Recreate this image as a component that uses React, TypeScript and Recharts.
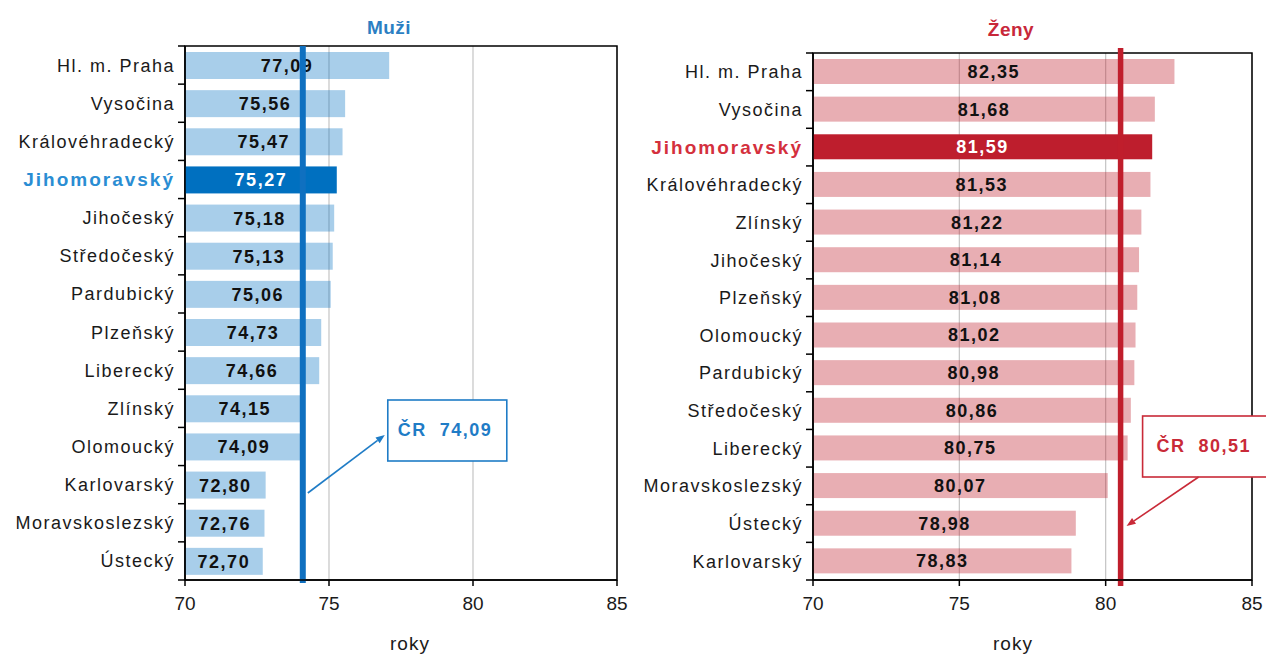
import React from 'react';
import { BarChart, Bar, XAxis, YAxis, CartesianGrid, ReferenceLine, ReferenceArea } from 'recharts';

const menCategories = ['Hl. m. Praha', 'Vysočina', 'Královéhradecký', 'Jihomoravský', 'Jihočeský', 'Středočeský', 'Pardubický', 'Plzeňský', 'Liberecký', 'Zlínský', 'Olomoucký', 'Karlovarský', 'Moravskoslezský', 'Ústecký'];
const menValues = [77.09, 75.56, 75.47, 75.27, 75.18, 75.13, 75.06, 74.73, 74.66, 74.15, 74.09, 72.8, 72.76, 72.7];
const womenCategories = ['Hl. m. Praha', 'Vysočina', 'Jihomoravský', 'Královéhradecký', 'Zlínský', 'Jihočeský', 'Plzeňský', 'Olomoucký', 'Pardubický', 'Středočeský', 'Liberecký', 'Moravskoslezský', 'Ústecký', 'Karlovarský'];
const womenValues = [82.35, 81.68, 81.59, 81.53, 81.22, 81.14, 81.08, 81.02, 80.98, 80.86, 80.75, 80.07, 78.98, 78.83];
const xTicks = [70, 75, 80, 85];
const xDomain = [70, 85];
const menAverage = 74.09;
const womenAverage = 80.51;
const highlightRegion = 'Jihomoravský';
const menTitle = 'Muži';
const womenTitle = 'Ženy';
const axisTitle = 'roky';
const avgPrefix = 'ČR';

const FONT = '"Liberation Sans", Arial, sans-serif';
const fmt = (v: number) => v.toFixed(2).replace('.', ',');

type Cfg = {
  left: number;
  width: number;
  height: number;
  top: number;
  right: number;
  yAxisWidth: number;
  xAxisHeight: number;
  barSize: number;
  dark: string;
  lightOpacity: number;
  hlLabel: string;
  lineColor: string;
  lineWidth: number;
  calloutColor: string;
  lineExtTop: number;
  lineExtBottom: number;
  callout: 'left' | 'right';
};

const menCfg: Cfg = {
  left: 0, width: 640, height: 655, top: 46, right: 23, yAxisWidth: 185, xAxisHeight: 75, barSize: 27,
  dark: '#0070c0', lightOpacity: 0.34, hlLabel: '#2a8dd3', lineColor: '#0f70c0', lineWidth: 6,
  calloutColor: '#1f7cc6', lineExtTop: 0, lineExtBottom: 3, callout: 'left',
};
const womenCfg: Cfg = {
  left: 642, width: 624, height: 655, top: 53, right: 14, yAxisWidth: 171, xAxisHeight: 75, barSize: 25,
  dark: '#be1e2d', lightOpacity: 0.36, hlLabel: '#d4303d', lineColor: '#c01e2c', lineWidth: 5.5,
  calloutColor: '#c92a38', lineExtTop: 5, lineExtBottom: 6, callout: 'right',
};

const Arrow = ({ x1, y1, x2, y2, color }: any) => {
  const ang = Math.atan2(y2 - y1, x2 - x1);
  const len = 9;
  const w = 3.5;
  const bx = x2 - len * Math.cos(ang);
  const by = y2 - len * Math.sin(ang);
  const px = -Math.sin(ang) * w;
  const py = Math.cos(ang) * w;
  return (
    <g>
      <line x1={x1} y1={y1} x2={bx} y2={by} stroke={color} strokeWidth={1.6} />
      <polygon points={`${x2},${y2} ${bx + px},${by + py} ${bx - px},${by - py}`} fill={color} />
    </g>
  );
};

function Panel({ cfg, categories, values, average }: { cfg: Cfg; categories: string[]; values: number[]; average: number }) {
  const data = categories.map((name, i) => ({ name, value: values[i] }));
  const n = data.length;
  const plotBottom = cfg.height - cfg.xAxisHeight;
  const band = (plotBottom - cfg.top) / n;

  const YTick = (props: any) => {
    const { x, y, payload, index } = props;
    const hl = payload.value === highlightRegion;
    return (
      <g>
        <text
          x={x}
          y={y}
          dy="0.36em"
          textAnchor="end"
          fontFamily={FONT}
          fontSize={hl ? 19 : 18}
          fontWeight={hl ? 'bold' : 'normal'}
          fill={hl ? cfg.hlLabel : '#1a1a1a'}
          style={{ letterSpacing: hl ? '2px' : '1.5px' }}
        >
          {payload.value}
        </text>
        <line x1={x + 3} x2={x + 10} y1={y - band / 2} y2={y - band / 2} stroke="#000" strokeWidth={1.5} />
        {index === n - 1 && (
          <line x1={x + 3} x2={x + 10} y1={y + band / 2} y2={y + band / 2} stroke="#000" strokeWidth={1.5} />
        )}
      </g>
    );
  };

  const BarShape = (props: any) => {
    const { x, y, width, height, payload } = props;
    const hl = payload.name === highlightRegion;
    return (
      <g>
        <rect x={x} y={y} width={width} height={height} fill={cfg.dark} fillOpacity={hl ? 1 : cfg.lightOpacity} />
        <text
          x={x + width / 2}
          y={y + height / 2}
          dy="0.36em"
          textAnchor="middle"
          fontFamily={FONT}
          fontSize={18}
          fontWeight="bold"
          fill={hl ? '#ffffff' : '#111111'}
          style={{ letterSpacing: '1.5px' }}
        >
          {fmt(payload.value)}
        </text>
      </g>
    );
  };

  const LineShape = (props: any) => {
    const X = props.x1;
    const top = Math.min(props.y1, props.y2);
    const bottom = Math.max(props.y1, props.y2);
    const c = cfg.calloutColor;
    const label = `${avgPrefix}\u00a0\u00a0${fmt(average)}`;
    let callout;
    if (cfg.callout === 'left') {
      callout = (
        <g>
          <Arrow x1={X + 5} y1={bottom - 87} x2={X + 82} y2={bottom - 145} color={c} />
          <rect x={X + 85} y={bottom - 180} width={119} height={61} fill="#fff" stroke={c} strokeWidth={1.6} />
          <text x={X + 95} y={bottom - 150} dy="0.36em" fontFamily={FONT} fontSize={18} fontWeight="bold" fill={c} style={{ letterSpacing: '1.5px' }}>
            {label}
          </text>
        </g>
      );
    } else {
      callout = (
        <g>
          <rect x={X + 22} y={bottom - 164} width={200} height={61} fill="#fff" stroke={c} strokeWidth={1.6} />
          <text x={X + 36} y={bottom - 134} dy="0.36em" fontFamily={FONT} fontSize={18} fontWeight="bold" fill={c} style={{ letterSpacing: '1.5px' }}>
            {label}
          </text>
          <Arrow x1={X + 78} y1={bottom - 103} x2={X + 6} y2={bottom - 54} color={c} />
        </g>
      );
    }
    return (
      <g>
        <line x1={X} x2={X} y1={top - cfg.lineExtTop} y2={bottom + cfg.lineExtBottom} stroke={cfg.lineColor} strokeWidth={cfg.lineWidth} />
        {callout}
      </g>
    );
  };

  return (
    <div style={{ position: 'absolute', left: cfg.left, top: 0, width: cfg.width, height: cfg.height, overflow: 'hidden' }}>
      <BarChart
        width={cfg.width}
        height={cfg.height}
        data={data}
        layout="vertical"
        margin={{ top: cfg.top, right: cfg.right, bottom: 0, left: 0 }}
      >
        <CartesianGrid horizontal={false} stroke="#c4c4c4" strokeWidth={1.2} />
        <XAxis
          type="number"
          domain={xDomain}
          ticks={xTicks}
          allowDataOverflow
          height={cfg.xAxisHeight}
          tickSize={6}
          tickMargin={11}
          axisLine={{ stroke: '#000', strokeWidth: 1.5 }}
          tickLine={{ stroke: '#000', strokeWidth: 1.5 }}
          tick={{ fontSize: 19, fill: '#1a1a1a', fontFamily: FONT }}
        />
        <YAxis
          type="category"
          dataKey="name"
          width={cfg.yAxisWidth}
          interval={0}
          tickSize={7}
          tickMargin={3}
          tickLine={false}
          axisLine={{ stroke: '#000', strokeWidth: 1.5 }}
          tick={<YTick />}
        />
        <ReferenceArea x1={xDomain[0]} x2={xDomain[1]} fill="none" fillOpacity={0} stroke="#000" strokeWidth={1.5} ifOverflow="visible" />
        <Bar dataKey="value" barSize={cfg.barSize} isAnimationActive={false} shape={<BarShape />} />
        <ReferenceLine x={average} ifOverflow="visible" shape={(p: any) => <LineShape {...p} />} />
      </BarChart>
    </div>
  );
}

export default function App() {
  return (
    <div style={{ position: 'absolute', left: 0, top: 0, width: 1266, height: 655, background: '#fff', fontFamily: FONT, overflow: 'hidden' }}>
      <Panel cfg={menCfg} categories={menCategories} values={menValues} average={menAverage} />
      <Panel cfg={womenCfg} categories={womenCategories} values={womenValues} average={womenAverage} />
      <div style={{ position: 'absolute', left: 339, top: 16, width: 100, textAlign: 'center', fontSize: 19, fontWeight: 'bold', color: '#2b7fc3', lineHeight: '24px', letterSpacing: '0.5px' }}>
        {menTitle}
      </div>
      <div style={{ position: 'absolute', left: 961, top: 18, width: 100, textAlign: 'center', fontSize: 19, fontWeight: 'bold', color: '#c8283a', lineHeight: '24px', letterSpacing: '0.5px' }}>
        {womenTitle}
      </div>
      <div style={{ position: 'absolute', left: 360, top: 632, width: 100, textAlign: 'center', fontSize: 19, color: '#1a1a1a', lineHeight: '24px', letterSpacing: '1px' }}>
        {axisTitle}
      </div>
      <div style={{ position: 'absolute', left: 963, top: 632, width: 100, textAlign: 'center', fontSize: 19, color: '#1a1a1a', lineHeight: '24px', letterSpacing: '1px' }}>
        {axisTitle}
      </div>
    </div>
  );
}
